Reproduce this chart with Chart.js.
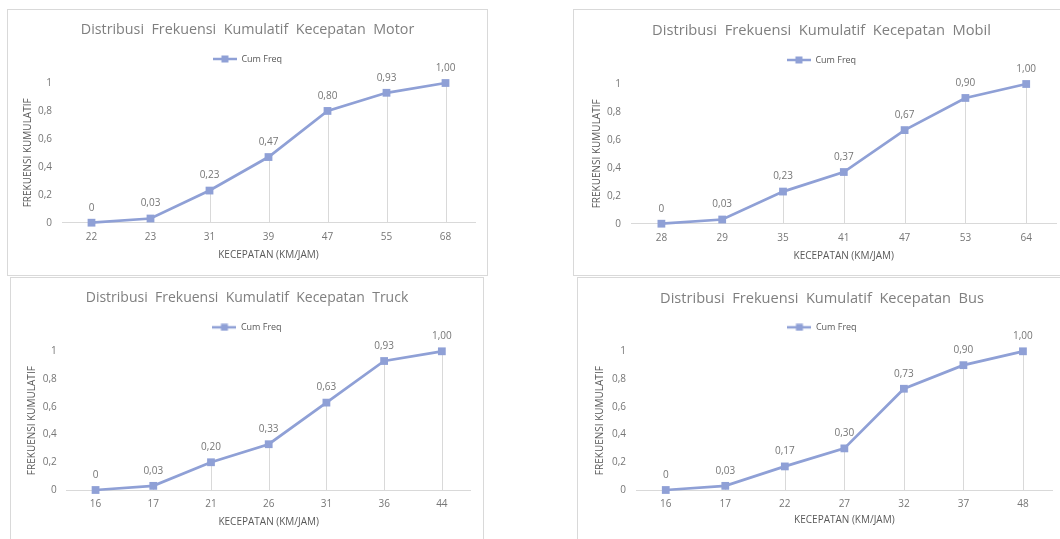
<!DOCTYPE html>
<html>
<head>
<meta charset="utf-8">
<script src="https://cdn.jsdelivr.net/npm/chart.js@4.4.1/dist/chart.umd.min.js"></script>
<style>
body{margin:0;width:1060px;height:539px;overflow:hidden;background:#fff;position:relative}
.panel{position:absolute;border:1px solid #d9d9d9;background:#fff;box-sizing:border-box}
.panel canvas{display:block}
</style>
</head>
<body>
<div class="panel" style="left:7px;top:9px;width:481px;height:267px"><canvas id="motor"></canvas></div>
<div class="panel" style="left:573px;top:9px;width:497px;height:267px"><canvas id="mobil"></canvas></div>
<div class="panel" style="left:10px;top:277px;width:474px;height:290px"><canvas id="truck"></canvas></div>
<div class="panel" style="left:577px;top:277px;width:490px;height:290px"><canvas id="bus"></canvas></div>
<script>

const motorSpeed=["22","23","31","39","47","55","68"]
const motorCum=[0,0.03,0.23,0.47,0.80,0.93,1.00]

const mobilSpeed=["28","29","35","41","47","53","64"]
const mobilCum=[0,0.03,0.23,0.37,0.67,0.90,1.00]

const truckSpeed=["16","17","21","26","31","36","44"]
const truckCum=[0,0.03,0.20,0.33,0.63,0.93,1.00]

const busSpeed=["16","17","22","27","32","37","48"]
const busCum=[0,0.03,0.17,0.30,0.73,0.90,1.00]

const yTicks=[0,0.2,0.4,0.6,0.8,1]
const seriesName="Cum Freq"
const xTitle="KECEPATAN (KM/JAM)"
const yTitle="FREKUENSI KUMULATIF"

const lineColor="#8fa0d6"
const tickColor="#767676"
const axisColor="#595959"

Chart.defaults.font.family="'Open Sans', sans-serif"
Chart.defaults.animation=false

function fmtTick(v){
return String(v).replace(".",",")
}

function fmtLabel(v){
if(v==0) return "0"
return v.toFixed(2).replace(".",",")
}

// line with a square in the middle, like the excel legend key
function legendIcon(){
let c=document.createElement("canvas")
c.width=24
c.height=8
let g=c.getContext("2d")
g.strokeStyle=lineColor
g.lineWidth=2.5
g.beginPath()
g.moveTo(0,4)
g.lineTo(24,4)
g.stroke()
g.fillStyle=lineColor
g.fillRect(8.5,0.5,7,7)
return c
}

// drop lines under each point and the value labels above them
const dropLines={
id:"dropLines",
beforeDatasetsDraw(chart){
let ctx=chart.ctx
let y0=chart.scales.y.getPixelForValue(0)
ctx.save()
ctx.strokeStyle="#d9d9d9"
ctx.lineWidth=1
chart.getDatasetMeta(0).data.forEach(pt=>{
let x=Math.round(pt.x)+0.5
ctx.beginPath()
ctx.moveTo(x,pt.y)
ctx.lineTo(x,y0)
ctx.stroke()
})
ctx.restore()
},
afterDatasetsDraw(chart){
let ctx=chart.ctx
let vals=chart.data.datasets[0].data
ctx.save()
ctx.font="10px 'Open Sans', sans-serif"
ctx.fillStyle=tickColor
ctx.textAlign="center"
ctx.textBaseline="middle"
chart.getDatasetMeta(0).data.forEach((pt,i)=>{
ctx.fillText(fmtLabel(vals[i]),pt.x,pt.y-15)
})
ctx.restore()
}
}

function makeChart(id,title,speeds,cum,b){

let tLH=b.ts*1.2
let titleBottom=b.titleY+tLH/2+6
let legPad=b.legendY-titleBottom-4.5
let legBottom=titleBottom+9+legPad+10
let gap=b.T-legBottom

return new Chart(document.getElementById(id),{
type:"line",
data:{
labels:speeds,
datasets:[{
label:seriesName,
data:cum,
xAxisID:"x",
yAxisID:"y",
borderColor:lineColor,
backgroundColor:lineColor,
borderWidth:2.75,
pointStyle:"rect",
pointRadius:5.5,
pointBorderWidth:0,
pointBackgroundColor:lineColor,
tension:0,
clip:false
}]
},
options:{
responsive:true,
maintainAspectRatio:false,
layout:{padding:0},
plugins:{
title:{display:true,text:title,color:"#7f7f7f",font:{size:b.ts,weight:"normal"},padding:{top:b.titleY-tLH/2,bottom:6}},
legend:{
display:true,
labels:{usePointStyle:true,pointStyle:legendIcon(),pointStyleWidth:24,color:axisColor,font:{size:9},padding:legPad}
},
tooltip:{enabled:false}
},
scales:{
x:{
type:"category",
offset:true,
grid:{display:false,drawTicks:false},
border:{display:true,color:"#d9d9d9",width:1},
ticks:{color:tickColor,font:{size:10},padding:8,maxRotation:0,autoSkip:false},
title:{display:true,text:xTitle,color:axisColor,font:{size:10},padding:{top:0,bottom:b.h-b.xTitleY-6}},
afterFit:s=>{s.height=b.h-b.B}
},
spaceTop:{
type:"category",
position:"top",
grid:{display:false,drawTicks:false},
border:{display:false},
ticks:{display:false},
afterFit:s=>{s.height=gap}
},
y:{
min:0,
max:1,
grid:{display:false,drawTicks:false},
border:{display:false},
ticks:{color:tickColor,font:{size:10},padding:10,callback:v=>fmtTick(v)},
afterBuildTicks:s=>{s.ticks=yTicks.map(v=>({value:v}))},
title:{display:true,text:yTitle,color:axisColor,font:{size:10},padding:{top:b.yTitleX-6,bottom:0}},
afterFit:s=>{s.width=b.L}
},
spaceRight:{
type:"linear",
position:"right",
grid:{display:false,drawTicks:false},
border:{display:false},
ticks:{display:false},
afterFit:s=>{s.width=b.padR}
}
}
},
plugins:[dropLines]
})

}

makeChart("motor","Distribusi  Frekuensi  Kumulatif  Kecepatan  Motor",motorSpeed,motorCum,
{h:265,ts:14.3,L:54,padR:12,titleY:20,legendY:49,T:73,B:212.7,xTitleY:245,yTitleX:20})

makeChart("mobil","Distribusi  Frekuensi  Kumulatif  Kecepatan  Mobil",mobilSpeed,mobilCum,
{h:265,ts:14.7,L:57,padR:12.4,titleY:20.7,legendY:50,T:74,B:213.7,xTitleY:245.7,yTitleX:22.7})

makeChart("truck","Distribusi  Frekuensi  Kumulatif  Kecepatan  Truck",truckSpeed,truckCum,
{h:288,ts:14,L:55.7,padR:12.3,titleY:20.3,legendY:49.3,T:73.3,B:212,xTitleY:243.7,yTitleX:20.7})

makeChart("bus","Distribusi  Frekuensi  Kumulatif  Kecepatan  Bus",busSpeed,busCum,
{h:288,ts:14.6,L:58,padR:13.3,titleY:21,legendY:49.3,T:73.3,B:212,xTitleY:242,yTitleX:22})

</script>
</body>
</html>
